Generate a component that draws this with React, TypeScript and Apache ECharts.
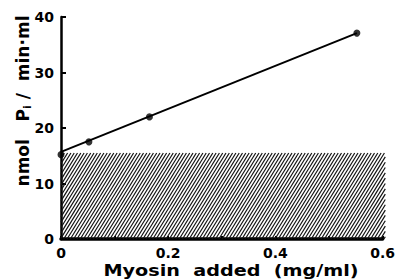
import React, { useEffect, useRef } from "react";
import * as echarts from "echarts";

// Data
const myosinAdded = [0, 0.052, 0.165, 0.552]; // mg/ml
const piRate = [15.2, 17.5, 22.0, 37.1]; // nmol Pi / min·ml
const fitLineX = [0, 0.552];
const fitLineY = [15.7, 37.1];
const hatchBox = [0, 0, 0.605, 15.5]; // x0, y0, x1, y1 (basal activity)
const xTicks = [0, 0.2, 0.4, 0.6];
const yTicks = [0, 10, 20, 30, 40];

const FONT = "DejaVu Sans";

export default function App() {
  const ref = useRef<HTMLDivElement>(null);
  useEffect(() => {
    if (!ref.current) return;
    const chart = echarts.init(ref.current, undefined, { renderer: "svg" });
    const option: any = {
      animation: false,
      backgroundColor: "#fff",
      grid: { left: 61, right: 13, top: 17, bottom: 40 },
      xAxis: {
        type: "value",
        min: 0,
        max: 0.6,
        interval: 0.1,
        splitLine: { show: false },
        axisLine: { show: true, onZero: false, lineStyle: { color: "#000", width: 3.5 } },
        axisTick: { show: true, inside: true, length: 3, lineStyle: { color: "#000", width: 2 } },
        axisLabel: {
          color: "#000",
          fontFamily: FONT,
          fontWeight: "bold",
          fontSize: 14,
          margin: 7,
          formatter: (v: number) => {
            const r = Math.round(v * 10) / 10;
            return xTicks.some((t) => Math.abs(t - r) < 1e-6) ? String(r) : "";
          },
        },
      },
      yAxis: {
        type: "value",
        min: 0,
        max: 40,
        interval: 10,
        splitLine: { show: false },
        axisLine: { show: true, onZero: false, lineStyle: { color: "#000", width: 2.5 } },
        axisTick: { show: true, inside: true, length: 5, lineStyle: { color: "#000", width: 2 } },
        axisLabel: {
          color: "#000",
          fontFamily: FONT,
          fontWeight: "bold",
          fontSize: 14,
          margin: 7,
          formatter: (v: number) => (yTicks.includes(v) ? String(v) : ""),
        },
      },
      series: [
        {
          type: "custom",
          data: [hatchBox],
          encode: { x: [0, 2], y: [1, 3] },
          z: 1,
          renderItem: (params: any, api: any) => {
            const p0 = api.coord([api.value(0), api.value(1)]);
            const p1 = api.coord([api.value(2), api.value(3)]);
            const left = p0[0];
            const bottom = p0[1];
            const right = p1[0];
            const top = p1[1];
            // lines "/" steeper than 45°: x + k*y = c
            const k = 0.62;
            const step = 3.3;
            const children: any[] = [];
            for (let c = left + k * top; c <= right + k * bottom; c += step) {
              // along line: x = c - k*y; y in [top,bottom], x in [left,right]
              const yA = Math.min(bottom, (c - left) / k);
              const yB = Math.max(top, (c - right) / k);
              if (yA <= yB) continue;
              children.push({
                type: "line",
                shape: { x1: c - k * yA, y1: yA, x2: c - k * yB, y2: yB },
                style: { stroke: "#111", lineWidth: 1.2 },
              });
            }
            return { type: "group", children };
          },
        },
        {
          type: "line",
          data: fitLineX.map((x, i) => [x, fitLineY[i]]),
          symbol: "none",
          lineStyle: { color: "#000", width: 2 },
          z: 3,
        },
        {
          type: "scatter",
          data: myosinAdded.map((x, i) => [x, piRate[i]]),
          symbol: "circle",
          symbolSize: 7,
          itemStyle: { color: "#000" },
          z: 4,
        },
      ],
      graphic: [
        {
          type: "text",
          x: 23,
          y: 101,
          rotation: Math.PI / 2,
          style: {
            text: "nmol   P{sub|i} /  min·ml",
            fill: "#000",
            font: `bold 17px "${FONT}"`,
            align: "center",
            verticalAlign: "middle",
            rich: {
              sub: { fontSize: 11, fontWeight: "bold", fontFamily: FONT, verticalAlign: "bottom", padding: [8, 0, 0, 0] },
            },
          },
        },
        {
          type: "text",
          x: 231,
          y: 271,
          scaleX: 1.2,
          style: {
            text: "Myosin  added  (mg/ml)",
            fill: "#000",
            font: `bold 16px "${FONT}"`,
            align: "center",
            verticalAlign: "middle",
          },
        },
      ],
    };
    chart.setOption(option);
    return () => chart.dispose();
  }, []);
  return <div ref={ref} style={{ position: "fixed", left: 0, top: 0, width: 398, height: 279 }} />;
}
